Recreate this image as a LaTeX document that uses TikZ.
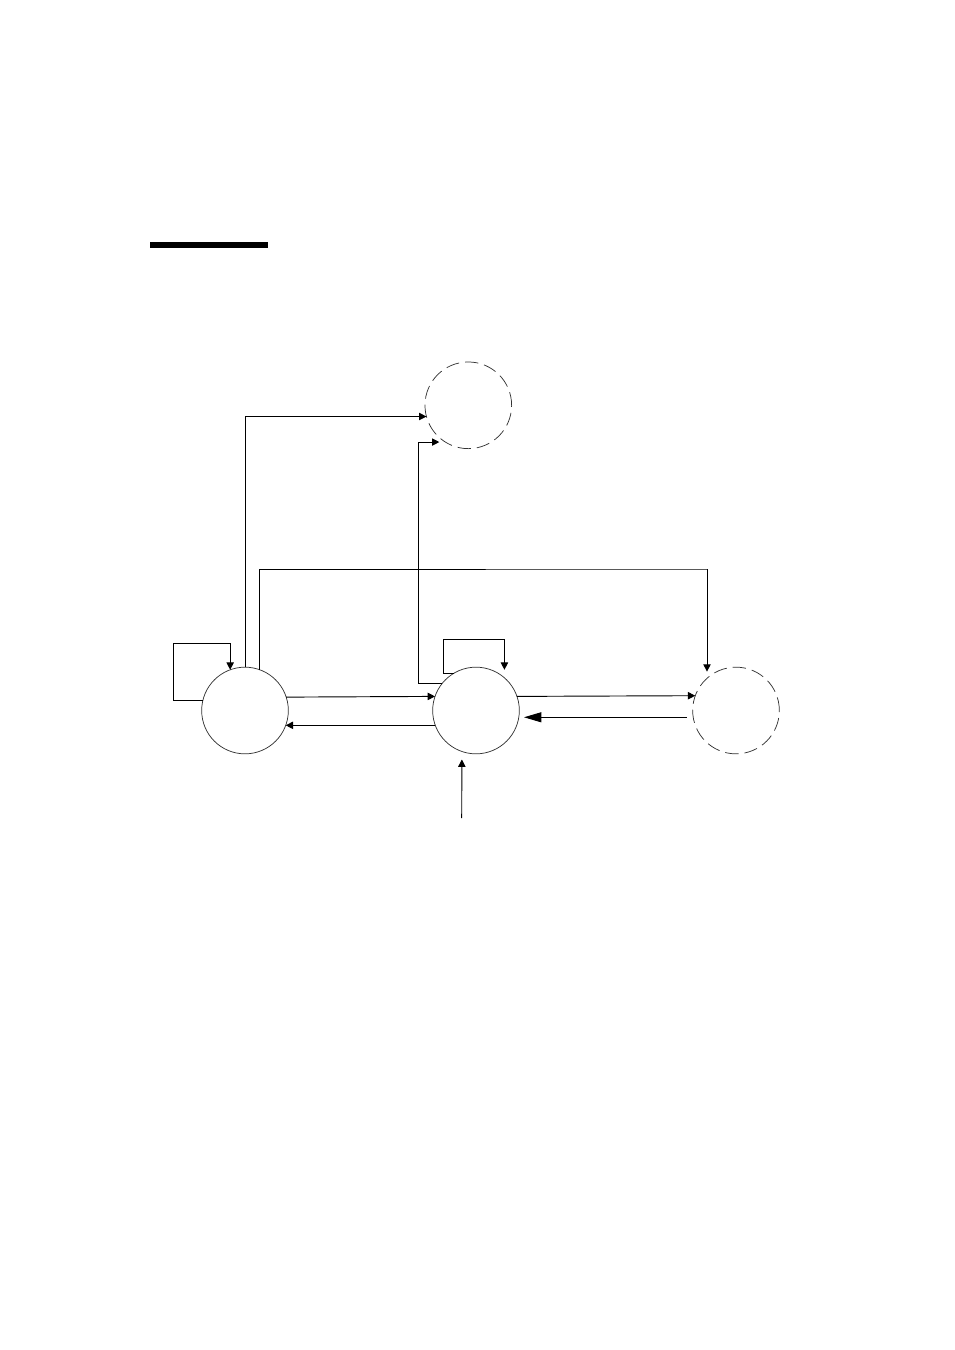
\documentclass[tikz,border=0pt]{standalone}
\usetikzlibrary{arrows.meta}
\begin{document}
\begin{tikzpicture}[x=0.75pt,y=-0.75pt,
  state/.style={circle,draw=black!80,line width=0.55pt,minimum size=65pt,inner sep=0pt,outer sep=0pt},
  ghost/.style={state,dash pattern=on 10pt off 4.5pt},
  conn/.style={line width=0.7pt},
  arr/.style={conn,-{Triangle[length=5.5pt,width=5.5pt]}},
  bigarr/.style={conn,-{Triangle[length=13pt,width=7.5pt]}}]
\useasboundingbox (0,0) rectangle (954,1350);
\fill[black] (150,242) rectangle (268,248);
\node[state] (A) at (245,710.5) {};
\node[state] (B) at (476,710.5) {};
\node[ghost] (C) at (736,710.5) {};
\node[ghost] (D) at (468.3,405.3) {};
\coordinate (aLoop) at (173,643);
\coordinate (bLoop) at (443.3,639.3);
\coordinate (acTop) at (707,569);
\coordinate (bdCorner) at (418.3,442.3);
\coordinate (entry) at (461.7,818);
% self loops
\draw[arr] (A.167.3) -| (aLoop) -| (A.110.3);
\draw[arr,shorten >=6pt] (B.120.7) -| (bLoop) -| (B.49.7);
% long routes
\draw[arr] (A.north) |- (D.195);
\draw[arr,shorten >=5pt] (A.70.7) |- (acTop) -| (C.132);
\draw[arr,shorten >=4.5pt] (B.142.8) -| (bdCorner) |- (D.238.2);
% horizontal links
\draw[arr] (A.18.6) -- (B.161.4);
\draw[arr] (B.200) -- (A.-20);
\draw[arr] (B.19.6) -- (C.160.4);
\draw[bigarr,shorten <=4.9pt,shorten >=3.9pt] (C.189) -- (B.-9);
% entry
\draw[arr,shorten >=6pt] (entry) -- (B.-109.3);
\end{tikzpicture}
\end{document}
